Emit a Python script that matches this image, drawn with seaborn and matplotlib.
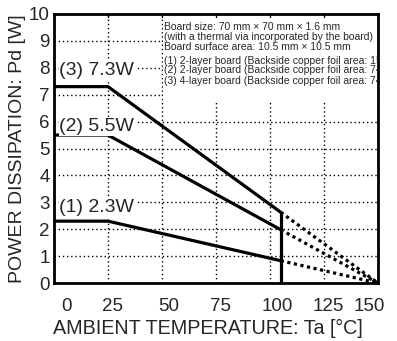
import matplotlib
matplotlib.use("Agg")
import matplotlib.pyplot as plt
import matplotlib.transforms as mtrans
import seaborn as sns
import pandas as pd
from matplotlib.patches import Rectangle

# data
series_names = ["(1) 2.3W", "(2) 5.5W", "(3) 7.3W"]
max_power = [2.3, 5.5, 7.3]
temps_solid = [0, 25, 105]
power_solid = [[2.3, 2.3, 0.83], [5.5, 5.5, 1.98], [7.3, 7.3, 2.63]]
temps_dotted = [105, 150]
power_dotted = [[0.83, 0.0], [1.98, 0.0], [2.63, 0.0]]
label_y = [2.8, 5.8, 7.9]
x_ticks = [0, 25, 50, 75, 100, 125, 150]
y_ticks = list(range(0, 11))
note_lines = [
    "Board size: 70 mm \u00d7 70 mm \u00d7 1.6 mm",
    "(with a thermal via incorporated by the board)",
    "Board surface area: 10.5 mm \u00d7 10.5 mm",
    "(1) 2-layer board (Backside copper foil area: 15 mm \u00d7 15 mm)",
    "(2) 2-layer board (Backside copper foil area: 74.2 mm \u00d7 74.2 mm)",
    "(3) 4-layer board (Backside copper foil area: 74.2 mm \u00d7 74.2 mm)",
]

sns.set_style("white")
plt.rcParams["font.family"] = ["Liberation Sans", "DejaVu Sans"]

fig = plt.figure(figsize=(3.97, 3.41), dpi=100)
ax = fig.add_axes([0.136, 0.170, 0.816, 0.789])

solid_df = pd.DataFrame(
    [(n, t, p) for n, ps in zip(series_names, power_solid) for t, p in zip(temps_solid, ps)],
    columns=["series", "Ta", "Pd"],
)
dot_df = pd.DataFrame(
    [(n, t, p) for n, ps in zip(series_names, power_dotted) for t, p in zip(temps_dotted, ps)],
    columns=["series", "Ta", "Pd"],
)

sns.lineplot(data=solid_df, x="Ta", y="Pd", units="series", estimator=None,
             color="black", lw=2.3, ax=ax, zorder=3, legend=False)
sns.lineplot(data=dot_df, x="Ta", y="Pd", units="series", estimator=None,
             color="black", lw=2.3, ls=(0, (1, 1.1)), ax=ax, zorder=3, legend=False)
# vertical drop at 105
ax.vlines(temps_solid[-1], 0, max(p[-1] for p in power_solid), color="black", lw=2.3, zorder=3)

ax.set_xlim(0, 148.6)
ax.set_ylim(0, 10)
ax.set_xticks(x_ticks)
ax.set_yticks(y_ticks)
ax.tick_params(axis="y", length=0, labelsize=13.5, pad=3)
ax.tick_params(axis="x", length=0, labelsize=13.5, pad=11)
ax.set_axisbelow(True)
ax.grid(True, color="black", ls=(0, (1, 2)), lw=1.0)

# shift x tick labels like the reference
shifts = [13, 5, 7, 5, 7, 4, -9]
for lab, dx in zip(ax.get_xticklabels(), shifts):
    lab.set_transform(lab.get_transform() + mtrans.ScaledTranslation(dx / 100, 0, fig.dpi_scale_trans))

for s in ax.spines.values():
    s.set_color("black")
    s.set_linewidth(2)

ax.set_xlabel("AMBIENT TEMPERATURE: Ta [\u00b0C]", fontsize=14.2, labelpad=0)
ax.xaxis.set_label_coords(0.475, -0.135)
ax.set_ylabel("POWER DISSIPATION: Pd [W]", fontsize=14, labelpad=2)

# curve labels
for name, y in zip(series_names, label_y):
    ax.text(2.5, y, name, fontsize=14, va="center", ha="left", zorder=4,
            bbox=dict(facecolor="white", edgecolor="none", pad=0.5))

# note box
ax.add_patch(Rectangle((50.6, 6.75), 100, 3.4, facecolor="white", edgecolor="none", zorder=1))
note_y = [9.52, 9.15, 8.78, 8.27, 7.9, 7.5]
for line, y in zip(note_lines, note_y):
    t = ax.text(51.0, y, line, fontsize=7.5, va="center", ha="left", zorder=4)
    t.set_clip_on(True)

# small inward ticks on the top spine
for xt in x_ticks[1:-1]:
    ax.plot([xt, xt], [10, 9.88], color="black", lw=1, zorder=5, clip_on=False)

fig.savefig("out.png", dpi=100)
